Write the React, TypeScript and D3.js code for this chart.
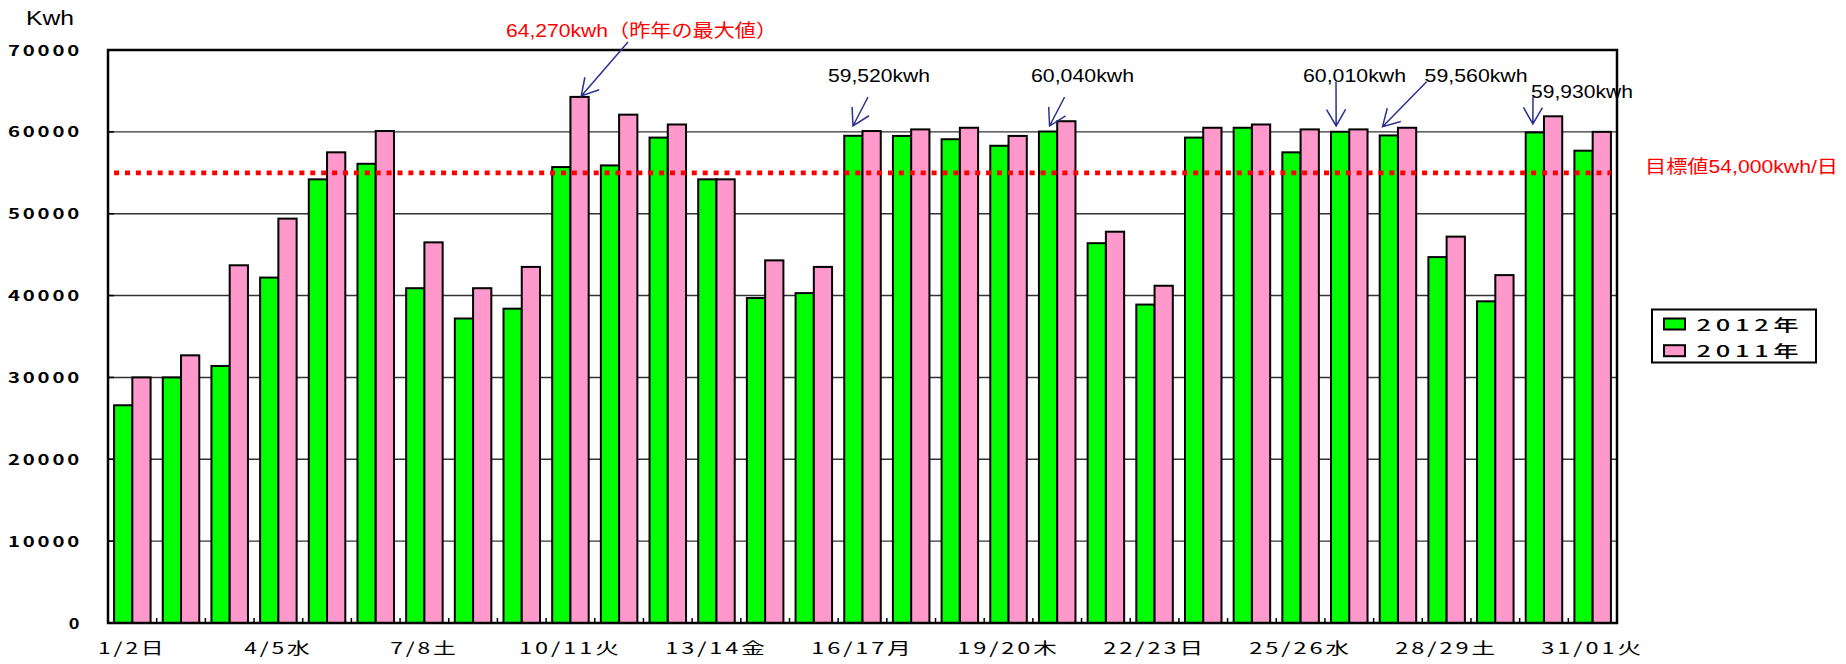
import React from "react";
import * as d3 from "d3";

const days = ["1/2", "2/3", "3/4", "4/5", "5/6", "6/7", "7/8", "8/9", "9/10", "10/11", "11/12", "12/13", "13/14", "14/15", "15/16", "16/17", "17/18", "18/19", "19/20", "20/21", "21/22", "22/23", "23/24", "24/25", "25/26", "26/27", "27/28", "28/29", "29/30", "30/31", "31/01"];
const series = ["2012年", "2011年"];
const kwh2012 = [26600, 30000, 31400, 42200, 54200, 56100, 40900, 37200, 38400, 55700, 55900, 59300, 54200, 39700, 40300, 59520, 59500, 59100, 58300, 60040, 46400, 38900, 59300, 60500, 57500, 60010, 59560, 44700, 39300, 59930, 57700];
const kwh2011 = [30000, 32700, 43700, 49400, 57500, 60100, 46500, 40900, 43500, 64270, 62100, 60900, 54200, 44300, 43500, 60100, 60300, 60500, 59500, 61300, 47800, 41200, 60500, 60900, 60300, 60300, 60500, 47200, 42500, 61900, 60000];
const tickDays = ["1/2", "4/5", "7/8", "10/11", "13/14", "16/17", "19/20", "22/23", "25/26", "28/29", "31/01"];
const tickLabels = ["1/2日", "4/5水", "7/8土", "10/11火", "13/14金", "16/17月", "19/20木", "22/23日", "25/26水", "28/29土", "31/01火"];
const yTicks = [0, 10000, 20000, 30000, 40000, 50000, 60000, 70000];
const yUnit = "Kwh";
const targetValue = 55000;
const targetLabel = "目標値54,000kwh/日";
const noteDays = ["10/11", "16/17", "20/21", "26/27", "27/28", "30/31"];
const noteSeries = ["2011年", "2012年", "2012年", "2012年", "2012年", "2012年"];
const noteTexts = ["64,270kwh（昨年の最大値）", "59,520kwh", "60,040kwh", "60,010kwh", "59,560kwh", "59,930kwh"];

// layout of the callouts (text box + arrow tail), tip comes from the bar
const noteLayout = [
  { x: 506, w: 271, base: 36.5, tail: [628, 42], dx: 1.7, gap: 1, color: "#ff0000" },
  { x: 828, w: 102, base: 81.5, tail: [868, 97], dx: -0.4, gap: 9.8, color: "#000" },
  { x: 1031, w: 103, base: 81.5, tail: [1064.6, 97], dx: 1.5, gap: 5.5, color: "#000" },
  { x: 1303, w: 103, base: 82, tail: [1336, 81.7], dx: -4, gap: 5.8, color: "#000" },
  { x: 1424.6, w: 103, base: 82, tail: [1426.6, 81.7], dx: -6.3, gap: 8.8, color: "#000" },
  { x: 1531, w: 102, base: 97.5, tail: [1533, 96.7], dx: -2, gap: 8.5, color: "#000" },
];

const W = 1846;
const H = 664;
const M = { left: 108, right: 1617, top: 50, bottom: 623 };
const gothic = "'Noto Sans CJK JP', sans-serif";
const arial = "'Liberation Sans', 'Noto Sans CJK JP', sans-serif";
const colors = { "2012年": "#00ff00", "2011年": "#ff99cc" };
const arrowColor = "#2b3090";

function arrowPath(tip, tail) {
  const a = Math.atan2(tail[1] - tip[1], tail[0] - tip[0]);
  const len = 19;
  const t = Math.PI / 6;
  const b1 = [tip[0] + len * Math.cos(a + t), tip[1] + len * Math.sin(a + t)];
  const b2 = [tip[0] + len * Math.cos(a - t), tip[1] + len * Math.sin(a - t)];
  return `M${tail[0]},${tail[1]}L${tip[0]},${tip[1]}M${b1[0]},${b1[1]}L${tip[0]},${tip[1]}L${b2[0]},${b2[1]}`;
}

export default function App() {
  const x0 = d3.scaleBand<string>().domain(days).range([M.left, M.right]).paddingInner(0.25).paddingOuter(0.125);
  const x1 = d3.scaleBand<string>().domain(series).range([0, x0.bandwidth()]);
  const y = d3.scaleLinear().domain([0, 70000]).range([M.bottom, M.top]);
  const values = { "2012年": kwh2012, "2011年": kwh2011 };
  const half = (x0.step() - x0.bandwidth()) / 2;

  return (
    <svg width={W} height={H} style={{ position: "absolute", left: 0, top: 0, background: "#fff" }}>
      {/* gridlines */}
      {yTicks.slice(1, -1).map((t) => (
        <line key={t} x1={M.left} x2={M.right} y1={y(t)} y2={y(t)} stroke="#333" strokeWidth={1.4} />
      ))}

      {/* bars */}
      {days.map((d, i) => (
        <g key={d} transform={`translate(${x0(d)},0)`}>
          {series.map((s) => (
            <rect
              key={s}
              x={x1(s)}
              y={y(values[s][i])}
              width={x1.bandwidth()}
              height={y(0) - y(values[s][i])}
              fill={colors[s]}
              stroke="#000"
              strokeWidth={2}
            />
          ))}
        </g>
      ))}

      {/* inner ticks */}
      {days.slice(1).map((d) => (
        <line key={d} x1={x0(d) - half} x2={x0(d) - half} y1={M.bottom} y2={M.bottom - 5} stroke="#000" strokeWidth={1.5} />
      ))}
      {yTicks.slice(1, -1).map((t) => (
        <line key={t} x1={M.left} x2={M.left + 6} y1={y(t)} y2={y(t)} stroke="#000" strokeWidth={1.5} />
      ))}

      {/* frame */}
      <rect x={M.left} y={M.top} width={M.right - M.left} height={M.bottom - M.top} fill="none" stroke="#000" strokeWidth={2.5} />

      {/* target line */}
      <line
        x1={x0(days[0])}
        x2={x0(days[days.length - 1]) + x0.bandwidth()}
        y1={y(targetValue)}
        y2={y(targetValue)}
        stroke="#ff0000"
        strokeWidth={4.7}
        strokeDasharray="5,5.9"
      />
      <text x={1645} y={y(targetValue) + 0.5} textLength={193} lengthAdjust="spacingAndGlyphs" fontFamily={arial} fontSize={18.5} fill="#ff0000">
        {targetLabel}
      </text>

      {/* y axis labels */}
      {yTicks.map((t) => {
        const s = String(t);
        return (
          <text key={t} x={82} y={y(t) + 5.5} textAnchor="end" letterSpacing={2} textLength={15.2 * s.length - 2} lengthAdjust="spacingAndGlyphs" fontFamily={gothic} fontWeight={600} fontSize={14.5} fill="#000">
            {s}
          </text>
        );
      })}
      <text x={26} y={25} textLength={48} lengthAdjust="spacingAndGlyphs" fontFamily={arial} fontSize={21} fill="#000">
        {yUnit}
      </text>

      {/* x axis labels */}
      {tickDays.map((d, i) => (
        <text key={d} x={x0(d) + x0.bandwidth() / 2} y={653.5} textAnchor="middle" letterSpacing={2} textLength={17.1 * tickLabels[i].length} lengthAdjust="spacingAndGlyphs" fontFamily={gothic} fontWeight={400} fontSize={16} fill="#000">
          {tickLabels[i]}
        </text>
      ))}

      {/* callouts */}
      {noteDays.map((d, i) => {
        const s = noteSeries[i];
        const L = noteLayout[i];
        const v = values[s][days.indexOf(d)];
        const tip = [x0(d) + x1(s) + x1.bandwidth() / 2 + L.dx, y(v) - L.gap];
        return (
          <g key={d}>
            <path d={arrowPath(tip, L.tail)} fill="none" stroke={arrowColor} strokeWidth={1.5} />
            <text x={L.x} y={L.base} textLength={L.w} lengthAdjust="spacingAndGlyphs" fontFamily={arial} fontSize={18.5} fill={L.color}>
              {noteTexts[i]}
            </text>
          </g>
        );
      })}

      {/* legend */}
      <rect x={1652} y={309.5} width={164} height={53} fill="#fff" stroke="#000" strokeWidth={2} />
      {series.map((s, i) => (
        <g key={s} transform={`translate(0,${i * 26.7})`}>
          <rect x={1664} y={318.5} width={21} height={11} fill={colors[s]} stroke="#000" strokeWidth={2} />
          <text x={1696.5} y={330.5} letterSpacing={3} textLength={107} lengthAdjust="spacingAndGlyphs" fontFamily={gothic} fontWeight={500} fontSize={16} fill="#000">
            {s}
          </text>
        </g>
      ))}
    </svg>
  );
}
